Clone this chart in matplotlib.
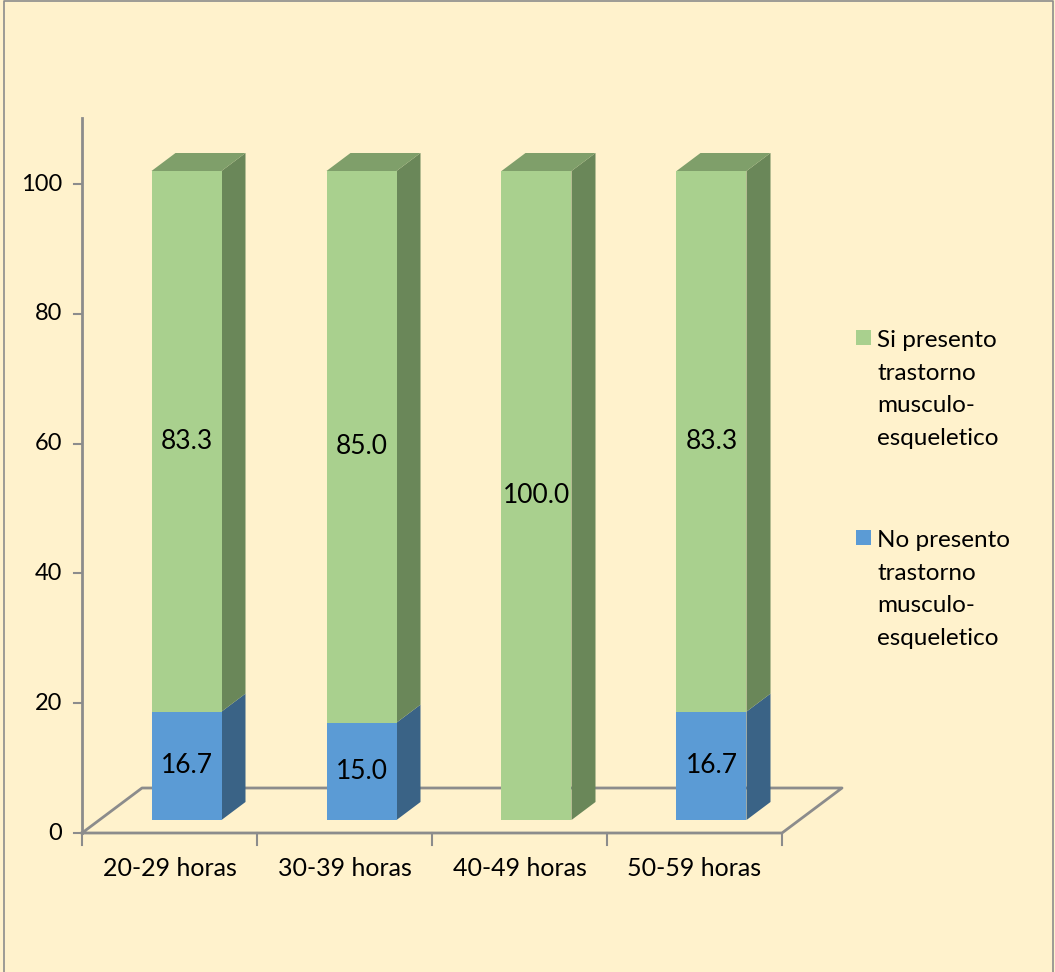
import matplotlib
matplotlib.use("Agg")
import matplotlib.pyplot as plt
from matplotlib.patches import Polygon, Rectangle
from matplotlib.lines import Line2D

# data
categorias = ["20-29 horas", "30-39 horas", "40-49 horas", "50-59 horas"]
no_presento = [16.7, 15.0, 0.0, 16.7]
si_presento = [83.3, 85.0, 100.0, 83.3]
series_labels = ["Si presento\ntrastorno\nmusculo-\nesqueletico",
                 "No presento\ntrastorno\nmusculo-\nesqueletico"]
yticks = [0, 20, 40, 60, 80, 100]

W, H = 1055, 972
fig = plt.figure(figsize=(W / 100, H / 100), dpi=100)
fig.patch.set_facecolor("#FFF2CC")
plt.rcParams["font.family"] = ["Lato", "DejaVu Sans"]

# axes spanning the whole figure; 1 category = 175 px, 1 unit = 6.49 px
cat_px, unit_px = 175.0, 6.49
x0_px, y0_px = 82.0, 833.0
ax = fig.add_axes([0, 0, 1, 1])
ax.set_xlim(-x0_px / cat_px, (W - x0_px) / cat_px)
ax.set_ylim(-(H - y0_px) / unit_px, y0_px / unit_px)
ax.axis("off")
ax.set_facecolor("none")

# 3d offsets (in data units)
floor_dx, floor_dy = 60 / cat_px, 45 / unit_px
bar_off_x, bar_off_y = 17 / cat_px, 13 / unit_px
depth_dx, depth_dy = 24 / cat_px, 18 / unit_px
bar_w = 70 / cat_px
n = len(categorias)

axis_col = "#8C8C8C"
# floor
ax.plot([0, n, n + floor_dx, floor_dx, 0], [0, 0, floor_dy, floor_dy, 0],
        color=axis_col, lw=2, zorder=1)
# vertical axis
ax.plot([0, 0], [0, 110.2], color=axis_col, lw=2, zorder=1)
for t in yticks:
    ax.plot([-8 / cat_px, 0], [t, t], color=axis_col, lw=1.5, zorder=1)
    ax.text(-20 / cat_px, t, str(t), ha="right", va="center", fontsize=17)
for i in range(n + 1):
    ax.plot([i, i], [0, -12 / unit_px], color=axis_col, lw=1.5, zorder=1)
for i, c in enumerate(categorias):
    ax.text(i + 0.5, -35 / unit_px, c, ha="center", va="center", fontsize=18)

colors = {
    "si": ("#A9D08E", "#6A8759", "#7F9F6A"),
    "no": ("#5B9BD5", "#3A6386", "#4A7FAE"),
}


def draw_segment(xl, yb, yt, cols, top):
    front, side, topc = cols
    xr = xl + bar_w
    ax.add_patch(Polygon([(xr, yb), (xr + depth_dx, yb + depth_dy),
                          (xr + depth_dx, yt + depth_dy), (xr, yt)],
                         closed=True, fc=side, ec="none", zorder=3))
    ax.add_patch(Rectangle((xl, yb), bar_w, yt - yb, fc=front, ec="none", zorder=3))
    if top:
        ax.add_patch(Polygon([(xl, yt), (xr, yt), (xr + depth_dx, yt + depth_dy),
                              (xl + depth_dx, yt + depth_dy)],
                             closed=True, fc=topc, ec="none", zorder=3))


for i in range(n):
    xl = i + 0.5 - bar_w / 2 + bar_off_x
    yb = bar_off_y
    no, si = no_presento[i], si_presento[i]
    if no > 0:
        draw_segment(xl, yb, yb + no, colors["no"], False)
        ax.text(xl + bar_w / 2, yb + no / 2, f"{no:.1f}", ha="center", va="center",
                fontsize=19, zorder=5)
    draw_segment(xl, yb + no, yb + no + si, colors["si"], True)
    ax.text(xl + bar_w / 2, yb + no + si / 2, f"{si:.1f}", ha="center", va="center",
            fontsize=19, zorder=5)

# legend
leg_cols = [colors["si"][0], colors["no"][0]]
leg_top = [329, 529]
for lab, col, ytop in zip(series_labels, leg_cols, leg_top):
    fig.patches.append(Rectangle((856 / W, 1 - (ytop + 16) / H), 15 / W, 15 / H,
                                 transform=fig.transFigure, fc=col, ec="none"))
    fig.text(877 / W, 1 - (ytop + 1) / H, lab, ha="left", va="top",
             fontsize=17.5, linespacing=1.68)

# chart border
fig.add_artist(Line2D([4 / W, 4 / W, 1053 / W, 1053 / W], [0, 1 - 1 / H, 1 - 1 / H, 0],
                      transform=fig.transFigure, color="#8C8C8C", lw=1.2))

fig.savefig("out.png", dpi=100, facecolor=fig.get_facecolor())
